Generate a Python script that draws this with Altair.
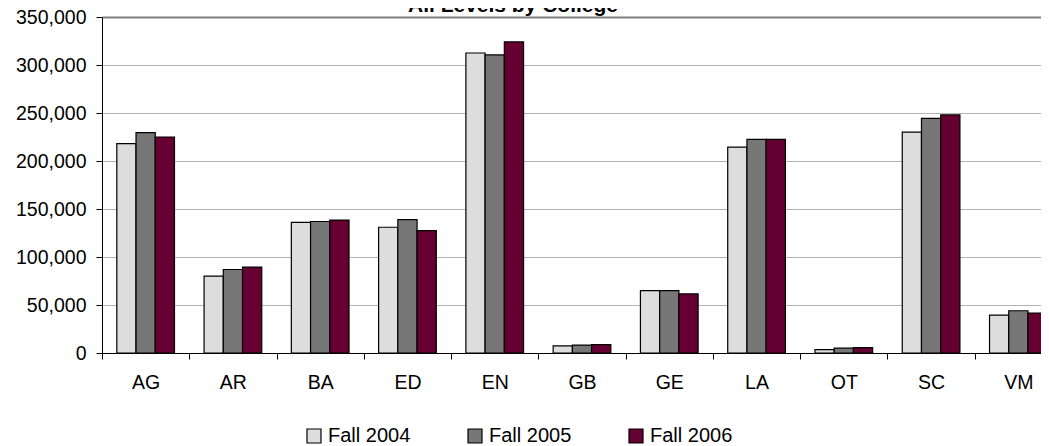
import altair as alt
import pandas as pd

colleges = ["AG", "AR", "BA", "ED", "EN", "GB", "GE", "LA", "OT", "SC", "VM"]
terms = ["Fall 2004", "Fall 2005", "Fall 2006"]
fall_2004 = [218000, 80000, 136000, 131000, 312500, 7500, 65000, 214500, 3500, 230000, 39500]
fall_2005 = [229500, 87000, 137000, 139000, 310500, 8300, 65000, 222500, 5000, 244500, 44000]
fall_2006 = [225000, 89500, 138500, 127500, 324000, 8700, 61500, 222500, 5500, 248000, 41500]
colors = ["#DDDDDD", "#777777", "#660033"]
y_ticks = [0, 50000, 100000, 150000, 200000, 250000, 300000, 350000]
title_text = ["All Levels by College"]

rows = []
for term, vals in zip(terms, [fall_2004, fall_2005, fall_2006]):
    for c, v in zip(colleges, vals):
        rows.append({"college": c, "term": term, "value": v})
df = pd.DataFrame(rows)

FONT = "Liberation Sans"
W, H = 939, 336

bars = alt.Chart(df).mark_bar(stroke="black", strokeWidth=1.2).encode(
    x=alt.X(
        "college:N", sort=colleges, title=None,
        scale=alt.Scale(range=[0, 960], paddingInner=0, paddingOuter=0),
        axis=alt.Axis(
            labelAngle=0, tickBand="extent", ticks=True, tickSize=6,
            tickColor="black", domainColor="black", labelFontSize=19.5,
            labelPadding=14, labelColor="black", grid=False, labelFont=FONT,
        ),
    ),
    xOffset=alt.XOffset("term:N", sort=terms,
                        scale=alt.Scale(paddingInner=0, paddingOuter=0.77)),
    y=alt.Y(
        "value:Q", title=None,
        scale=alt.Scale(domain=[0, 350000], nice=False),
        axis=alt.Axis(
            values=y_ticks, format=",d", tickSize=6, tickColor="black",
            domainColor="black", labelFontSize=19.5, labelPadding=10,
            labelColor="black", labelFont=FONT,
            gridColor=alt.expr("datum.value == 350000 ? '#808080' : '#b4b4b4'"),
            gridWidth=alt.expr("datum.value == 350000 ? 2 : 1"),
        ),
    ),
    color=alt.Color(
        "term:N", sort=terms,
        scale=alt.Scale(domain=terms, range=colors),
        legend=alt.Legend(
            title=None, orient="none", legendX=202, legendY=409,
            direction="horizontal", symbolType="square", symbolSize=196,
            symbolStrokeColor="black", symbolStrokeWidth=1.2,
            symbolOpacity=1, labelFontSize=20, labelFont=FONT,
            labelColor="black", labelOffset=4, columnPadding=54, padding=0,
        ),
    ),
)

title = alt.Chart(pd.DataFrame({"t": title_text})).mark_text(
    font=FONT, fontSize=21, fontWeight="bold", color="black",
    align="center", baseline="alphabetic",
).encode(x=alt.value(411), y=alt.value(-5), text="t:N")

chart = alt.layer(bars, title).properties(
    width=W, height=H,
    autosize=alt.AutoSizeParams(type="none"),
    padding={"left": 94, "top": 9, "right": 0, "bottom": 92},
    background="white",
).configure_view(stroke=None)

chart.save("out.html", embed_options={"renderer": "svg", "actions": False})
